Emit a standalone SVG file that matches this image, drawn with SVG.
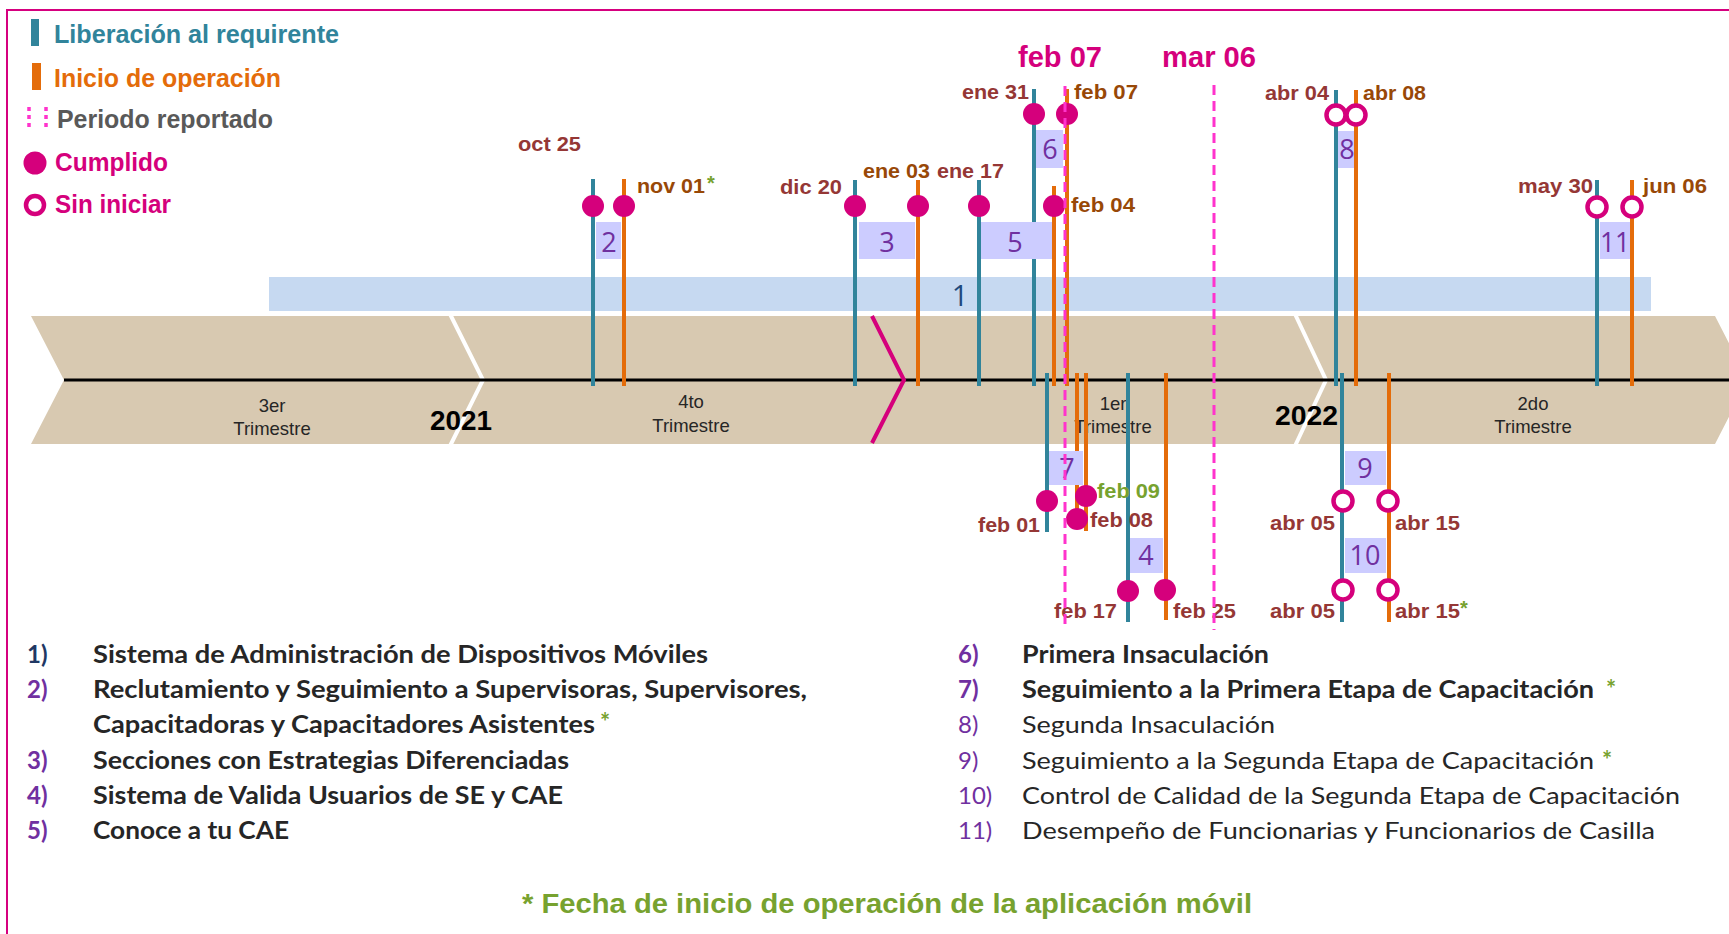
<svg xmlns="http://www.w3.org/2000/svg" width="1729" height="934" viewBox="0 0 1729 934">
<style>
.lg{font-family:"Liberation Sans",Arial,sans-serif;font-weight:bold;font-size:25px}
.dt{font-family:"Liberation Sans",Arial,sans-serif;font-weight:bold;font-size:20px}
.red{fill:#953735}
.brn{fill:#984807}
.grn{fill:#77A22F}
.tl{stroke:#31849B;stroke-width:4}
.or{stroke:#E46C0A;stroke-width:4}
.dot{fill:#D5007C}
.ring{fill:#fff;stroke:#D5007C;stroke-width:4.5}
.box{fill:#CCCCFF}
.bn{font-family:"Open Sans",sans-serif;font-size:27px;fill:#7030A0;text-anchor:middle}
.tri{font-family:"Liberation Sans",Arial,sans-serif;font-size:18.5px;fill:#262626;text-anchor:middle}
.yr{font-family:"Liberation Sans",Arial,sans-serif;font-size:28px;font-weight:bold;fill:#000}
.li{font-family:Lato,"Open Sans",sans-serif;font-size:24px;fill:#262626}
.num{font-family:Lato,"Open Sans",sans-serif;font-size:24px;fill:#7030A0}
.ast{font-family:Lato,"Open Sans",sans-serif;font-size:24px;font-weight:bold;fill:#77A22F}
.b{font-weight:bold}
.per{stroke:#FF33CC;stroke-width:3;stroke-dasharray:10 6;fill:none}
.big{font-family:"Liberation Sans",Arial,sans-serif;font-weight:bold;font-size:29px;fill:#D5007C}
</style>

<g id="frame">
<polyline points="7,934 7,10 1729,10" fill="none" stroke="#D6007F" stroke-width="2"/>
</g>

<g id="legend">
<rect x="31" y="19" width="8" height="27" fill="#31849B"/>
<text class="lg" x="54" y="43" fill="#31849B" textLength="285" lengthAdjust="spacingAndGlyphs">Liberación  al  requirente</text>
<rect x="32" y="63" width="9" height="27" fill="#E46C0A"/>
<text class="lg" x="54" y="87" fill="#E46C0A" textLength="227" lengthAdjust="spacingAndGlyphs">Inicio  de  operación</text>
<line x1="29" y1="107" x2="29" y2="131" stroke="#FF33CC" stroke-width="3.5" stroke-dasharray="4 4"/>
<line x1="46" y1="107" x2="46" y2="131" stroke="#FF33CC" stroke-width="3.5" stroke-dasharray="4 4"/>
<text class="lg" x="57" y="128" fill="#595959" textLength="216" lengthAdjust="spacingAndGlyphs">Periodo  reportado</text>
<circle cx="35" cy="163" r="11.5" class="dot"/>
<text class="lg" x="55" y="171" fill="#D5007C" textLength="113" lengthAdjust="spacingAndGlyphs">Cumplido</text>
<circle cx="35" cy="205" r="9" class="ring"/>
<text class="lg" x="55" y="213" fill="#D5007C" textLength="116" lengthAdjust="spacingAndGlyphs">Sin iniciar</text>
</g>

<g id="timeline">
<polygon points="31,316 1715,316 1748,380 1715,444 31,444 64,380" fill="#D8C9B1"/>
<polyline points="450,314 483,380 450,446" fill="none" stroke="#fff" stroke-width="4"/>
<polyline points="1295,314 1326,380 1295,446" fill="none" stroke="#fff" stroke-width="4"/>
<line x1="64" y1="380" x2="1729" y2="380" stroke="#000" stroke-width="3"/>
<text class="tri" x="272" y="412">3er</text>
<text class="tri" x="272" y="435">Trimestre</text>
<text class="tri" x="691" y="408">4to</text>
<text class="tri" x="691" y="432">Trimestre</text>
<text class="tri" x="1113" y="410">1er</text>
<text class="tri" x="1113" y="433">Trimestre</text>
<text class="tri" x="1533" y="410">2do</text>
<text class="tri" x="1533" y="433">Trimestre</text>
<text class="yr" x="430" y="430" textLength="62" lengthAdjust="spacingAndGlyphs">2021</text>
<text class="yr" x="1275" y="425" textLength="63" lengthAdjust="spacingAndGlyphs">2022</text>
<polyline points="872,316 904,380 872,443" fill="none" stroke="#D5007C" stroke-width="4"/>
</g>

<g id="node-1">
<rect x="269" y="277" width="1382" height="34" fill="#C6D9F1"/>
<text x="960" y="306" font-family="Open Sans,sans-serif" font-size="29" fill="#1F497D" text-anchor="middle">1</text>
</g>

<g id="connectors">
<line class="tl" x1="593" y1="179" x2="593" y2="386"/>
<line class="or" x1="624" y1="179" x2="624" y2="386"/>
<line class="tl" x1="855" y1="180" x2="855" y2="386"/>
<line class="or" x1="918" y1="180" x2="918" y2="386"/>
<line class="tl" x1="979" y1="180" x2="979" y2="386"/>
<line class="or" x1="1054" y1="186" x2="1054" y2="386"/>
<line class="tl" x1="1034" y1="89" x2="1034" y2="386"/>
<line class="or" x1="1067" y1="89" x2="1067" y2="386"/>
<line class="tl" x1="1336" y1="90" x2="1336" y2="386"/>
<line class="or" x1="1356" y1="90" x2="1356" y2="386"/>
<line class="tl" x1="1597" y1="180" x2="1597" y2="386"/>
<line class="or" x1="1632" y1="180" x2="1632" y2="386"/>
<line class="tl" x1="1047" y1="373" x2="1047" y2="532"/>
<line class="or" x1="1077" y1="373" x2="1077" y2="519"/>
<line class="or" x1="1086" y1="373" x2="1086" y2="531"/>
<line class="tl" x1="1128" y1="373" x2="1128" y2="622"/>
<line class="or" x1="1166" y1="373" x2="1166" y2="620"/>
<line class="tl" x1="1342" y1="373" x2="1342" y2="622"/>
<line class="or" x1="1389" y1="373" x2="1389" y2="622"/>
</g>

<g id="node-2">
<rect class="box" x="596" y="222" width="25" height="37"/>
<text class="bn" x="609" y="252">2</text>
<circle class="dot" cx="593" cy="206" r="11"/>
<circle class="dot" cx="624" cy="206" r="11"/>
<text class="dt red" x="518" y="151" textLength="63" lengthAdjust="spacingAndGlyphs">oct 25</text>
<text class="dt brn" x="637" y="193" textLength="68" lengthAdjust="spacingAndGlyphs">nov 01</text>
<text class="dt grn" x="707" y="190" font-size="22">*</text>
</g>

<g id="node-3">
<rect class="box" x="859" y="222" width="56" height="37"/>
<text class="bn" x="887" y="252">3</text>
<circle class="dot" cx="855" cy="206" r="11"/>
<circle class="dot" cx="918" cy="206" r="11"/>
<text class="dt red" x="780" y="194" textLength="62" lengthAdjust="spacingAndGlyphs">dic 20</text>
<text class="dt brn" x="863" y="178" textLength="67" lengthAdjust="spacingAndGlyphs">ene 03</text>
</g>

<g id="node-5">
<rect class="box" x="981" y="222" width="71" height="37"/>
<text class="bn" x="1015" y="252">5</text>
<circle class="dot" cx="979" cy="206" r="11"/>
<circle class="dot" cx="1054" cy="206" r="11"/>
<text class="dt red" x="937" y="178" textLength="67" lengthAdjust="spacingAndGlyphs">ene 17</text>
<text class="dt brn" x="1071" y="212" textLength="64" lengthAdjust="spacingAndGlyphs">feb 04</text>
</g>

<g id="node-6">
<rect class="box" x="1036" y="130" width="27" height="38"/>
<text class="bn" x="1050" y="159">6</text>
<circle class="dot" cx="1034" cy="114" r="11"/>
<circle class="dot" cx="1067" cy="114" r="11"/>
<text class="dt red" x="962" y="99" textLength="67" lengthAdjust="spacingAndGlyphs">ene 31</text>
<text class="dt brn" x="1074" y="99" textLength="64" lengthAdjust="spacingAndGlyphs">feb 07</text>
</g>

<g id="node-8">
<rect class="box" x="1338" y="131" width="16" height="37"/>
<text class="bn" x="1347" y="159">8</text>
<circle class="ring" cx="1336" cy="115" r="9.5"/>
<circle class="ring" cx="1356" cy="115" r="9.5"/>
<text class="dt red" x="1265" y="100" textLength="64" lengthAdjust="spacingAndGlyphs">abr 04</text>
<text class="dt brn" x="1363" y="100" textLength="63" lengthAdjust="spacingAndGlyphs">abr 08</text>
</g>

<g id="node-11">
<rect class="box" x="1600" y="222" width="30" height="37"/>
<text class="bn" x="1615" y="252" textLength="30" lengthAdjust="spacingAndGlyphs">11</text>
<circle class="ring" cx="1597" cy="207" r="9.5"/>
<circle class="ring" cx="1632" cy="207" r="9.5"/>
<text class="dt red" x="1518" y="193" textLength="75" lengthAdjust="spacingAndGlyphs">may 30</text>
<text class="dt brn" x="1643" y="193" textLength="64" lengthAdjust="spacingAndGlyphs">jun 06</text>
</g>

<g id="node-7">
<rect class="box" x="1049" y="451" width="34" height="34"/>
<text class="bn" x="1067" y="478">7</text>
<circle class="dot" cx="1047" cy="501" r="11"/>
<circle class="dot" cx="1086" cy="496" r="11"/>
<circle class="dot" cx="1077" cy="519" r="11"/>
<text class="dt red" x="978" y="532" textLength="62" lengthAdjust="spacingAndGlyphs">feb 01</text>
<text class="dt grn" x="1097" y="498" textLength="63" lengthAdjust="spacingAndGlyphs">feb 09</text>
<text class="dt red" x="1090" y="527" textLength="63" lengthAdjust="spacingAndGlyphs">feb 08</text>
</g>

<g id="node-4">
<rect class="box" x="1130" y="538" width="33" height="35"/>
<text class="bn" x="1146" y="565">4</text>
<circle class="dot" cx="1128" cy="591" r="11"/>
<circle class="dot" cx="1165" cy="590" r="11"/>
<text class="dt red" x="1054" y="618" textLength="63" lengthAdjust="spacingAndGlyphs">feb 17</text>
<text class="dt red" x="1173" y="618" textLength="63" lengthAdjust="spacingAndGlyphs">feb 25</text>
</g>

<g id="node-9">
<rect class="box" x="1345" y="451" width="41" height="34"/>
<text class="bn" x="1365" y="478">9</text>
<circle class="ring" cx="1343" cy="501" r="9.5"/>
<circle class="ring" cx="1388" cy="501" r="9.5"/>
<text class="dt red" x="1270" y="530" textLength="65" lengthAdjust="spacingAndGlyphs">abr 05</text>
<text class="dt red" x="1395" y="530" textLength="65" lengthAdjust="spacingAndGlyphs">abr 15</text>
</g>

<g id="node-10">
<rect class="box" x="1345" y="538" width="41" height="35"/>
<text class="bn" x="1365" y="565">10</text>
<circle class="ring" cx="1343" cy="590" r="9.5"/>
<circle class="ring" cx="1388" cy="590" r="9.5"/>
<text class="dt red" x="1270" y="618" textLength="65" lengthAdjust="spacingAndGlyphs">abr 05</text>
<text class="dt red" x="1395" y="618" textLength="65" lengthAdjust="spacingAndGlyphs">abr 15</text>
<text class="dt grn" x="1460" y="615" font-size="22">*</text>
</g>

<g id="period">
<line class="per" x1="1065" y1="86" x2="1065" y2="630"/>
<line class="per" x1="1214" y1="85" x2="1214" y2="630"/>
<text class="big" x="1018" y="67" textLength="84" lengthAdjust="spacingAndGlyphs">feb  07</text>
<text class="big" x="1162" y="67" textLength="94" lengthAdjust="spacingAndGlyphs">mar  06</text>
</g>

<g id="list">
<text class="num b" x="27" y="663" style="fill:#1F3864">1)</text>
<text class="li b" x="93" y="663" textLength="615" lengthAdjust="spacingAndGlyphs">Sistema de Administración  de Dispositivos Móviles</text>
<text class="num b" x="27" y="698">2)</text>
<text class="li b" x="93" y="698" textLength="714" lengthAdjust="spacingAndGlyphs">Reclutamiento y Seguimiento a Supervisoras, Supervisores,</text>
<text class="li b" x="93" y="733" textLength="502" lengthAdjust="spacingAndGlyphs">Capacitadoras  y Capacitadores  Asistentes</text>
<text class="ast" x="600" y="731">*</text>
<text class="num b" x="27" y="769">3)</text>
<text class="li b" x="93" y="769" textLength="476" lengthAdjust="spacingAndGlyphs">Secciones con Estrategias Diferenciadas</text>
<text class="num b" x="27" y="804">4)</text>
<text class="li b" x="93" y="804" textLength="470" lengthAdjust="spacingAndGlyphs">Sistema de Valida Usuarios de SE y CAE</text>
<text class="num b" x="27" y="839">5)</text>
<text class="li b" x="93" y="839" textLength="196" lengthAdjust="spacingAndGlyphs">Conoce a tu CAE</text>

<text class="num b" x="958" y="663">6)</text>
<text class="li b" x="1022" y="663" textLength="247" lengthAdjust="spacingAndGlyphs">Primera Insaculación</text>
<text class="num b" x="958" y="698">7)</text>
<text class="li b" x="1022" y="698" textLength="572" lengthAdjust="spacingAndGlyphs">Seguimiento a la Primera Etapa de Capacitación</text>
<text class="ast" x="1606" y="698">*</text>
<text class="num" x="958" y="733">8)</text>
<text class="li" x="1022" y="733" textLength="253" lengthAdjust="spacingAndGlyphs">Segunda Insaculación</text>
<text class="num" x="958" y="769">9)</text>
<text class="li" x="1022" y="769" textLength="572" lengthAdjust="spacingAndGlyphs">Seguimiento a la Segunda Etapa de Capacitación</text>
<text class="ast" x="1602" y="769">*</text>
<text class="num" x="958" y="804">10)</text>
<text class="li" x="1022" y="804" textLength="658" lengthAdjust="spacingAndGlyphs">Control de Calidad de la Segunda Etapa de Capacitación</text>
<text class="num" x="958" y="839">11)</text>
<text class="li" x="1022" y="839" textLength="633" lengthAdjust="spacingAndGlyphs">Desempeño  de Funcionarias y Funcionarios de Casilla</text>
</g>

<g id="footer">
<text x="522" y="913" font-family="Liberation Sans,Arial,sans-serif" font-weight="bold" font-size="27" fill="#77A22F" textLength="730" lengthAdjust="spacingAndGlyphs">* Fecha de inicio de operación de la aplicación móvil</text>
</g>
</svg>
